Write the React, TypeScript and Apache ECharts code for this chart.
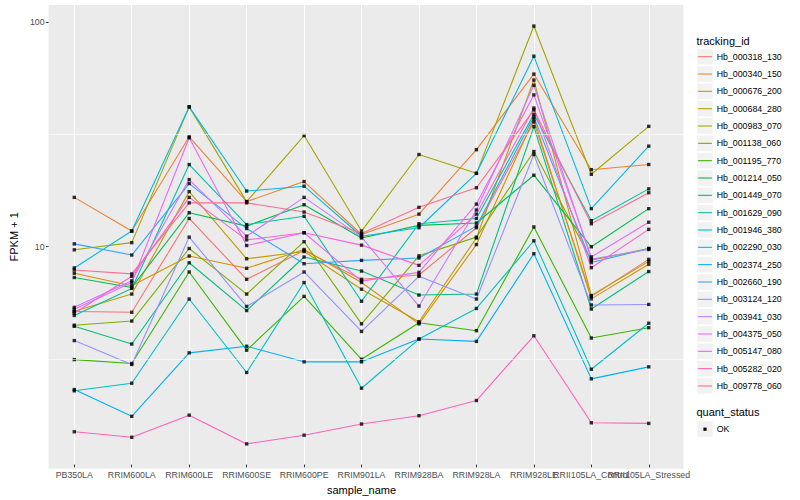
import React, { useEffect, useRef } from "react";
import * as echarts from "echarts";

const categories = [
  "PB350LA",
  "RRIM600LA",
  "RRIM600LE",
  "RRIM600SE",
  "RRIM600PE",
  "RRIM901LA",
  "RRIM928BA",
  "RRIM928LA",
  "RRIM928LE",
  "RRII105LA_Control",
  "RRII105LA_Stressed",
];

const trackingIds = [
  "Hb_000318_130",
  "Hb_000340_150",
  "Hb_000676_200",
  "Hb_000684_280",
  "Hb_000983_070",
  "Hb_001138_060",
  "Hb_001195_770",
  "Hb_001214_050",
  "Hb_001449_070",
  "Hb_001629_090",
  "Hb_001946_380",
  "Hb_002290_030",
  "Hb_002374_250",
  "Hb_002660_190",
  "Hb_003124_120",
  "Hb_003941_030",
  "Hb_004375_050",
  "Hb_005147_080",
  "Hb_005282_020",
  "Hb_009778_060",
];

// FPKM + 1 per sample (same order as categories)
const hb_000318_130 = [5.0, 4.96, 13.1, 6.98, 9.4, 6.98, 7.3, 11.9, 35.6, 5.85, 8.58];
const hb_000340_150 = [16.3, 11.5, 30.5, 15.6, 19.2, 11.1, 13.7, 26.7, 58.4, 21.7, 22.9];
const hb_000676_200 = [7.43, 6.53, 8.88, 7.82, 9.5, 6.75, 4.4, 10.0, 36.7, 5.7, 8.15];
const hb_000684_280 = [5.01, 5.99, 17.3, 8.63, 9.3, 6.3, 4.5, 10.7, 54.9, 5.9, 8.4];
const hb_000983_070 = [9.47, 10.2, 41.6, 15.6, 30.9, 11.5, 25.4, 20.9, 96, 20.7, 34.0];
const hb_001138_060 = [4.34, 4.53, 9.6, 5.99, 10.3, 4.4, 8.9, 10.8, 26.2, 8.5, 9.6];
const hb_001195_770 = [3.04, 2.92, 7.53, 3.35, 5.85, 3.05, 4.45, 4.1, 12.0, 3.8, 4.23];
const hb_001214_050 = [7.11, 6.41, 13.9, 12.1, 15.1, 10.7, 12.2, 12.5, 20.5, 9.77, 14.5];
const hb_001449_070 = [4.29, 3.57, 8.28, 5.05, 8.79, 7.6, 5.93, 5.99, 33.9, 5.13, 7.56];
const hb_001629_090 = [4.8, 6.35, 22.9, 12.3, 13.4, 5.56, 12.4, 13.1, 38.5, 12.8, 17.8];
const hb_001946_380 = [2.2, 2.38, 5.69, 2.66, 6.75, 2.26, 3.76, 5.16, 10.4, 2.75, 4.43];
const hb_002290_030 = [7.85, 11.5, 41.6, 17.4, 18.3, 10.9, 11.9, 20.9, 70.3, 14.5, 27.7];
const hb_002374_250 = [2.23, 1.69, 3.26, 3.49, 2.97, 2.97, 3.76, 3.67, 9.1, 2.49, 2.82];
const hb_002660_190 = [10.07, 8.97, 18.8, 11.8, 8.2, 8.49, 8.7, 12.1, 37.5, 8.3, 9.6];
const hb_003124_120 = [3.7, 2.89, 10.8, 5.27, 7.53, 4.07, 7.2, 5.69, 25.4, 5.35, 5.38];
const hb_003941_030 = [5.22, 6.87, 19.6, 10.9, 16.3, 10.8, 5.29, 14.3, 52.0, 8.6, 9.5];
const hb_004375_050 = [5.12, 6.75, 30.2, 9.9, 11.3, 6.85, 7.5, 15.2, 47.1, 8.8, 12.6];
const hb_005147_080 = [4.91, 7.2, 16.3, 10.5, 11.3, 9.94, 8.06, 13.7, 41.1, 7.87, 11.7];
const hb_005282_020 = [1.44, 1.36, 1.71, 1.27, 1.39, 1.56, 1.7, 1.99, 3.89, 1.58, 1.57];
const hb_009778_060 = [7.69, 7.38, 15.4, 15.4, 14.0, 11.2, 14.7, 18.0, 40.3, 12.4, 17.1];

const fpkmPlusOne = [
  hb_000318_130,
  hb_000340_150,
  hb_000676_200,
  hb_000684_280,
  hb_000983_070,
  hb_001138_060,
  hb_001195_770,
  hb_001214_050,
  hb_001449_070,
  hb_001629_090,
  hb_001946_380,
  hb_002290_030,
  hb_002374_250,
  hb_002660_190,
  hb_003124_120,
  hb_003941_030,
  hb_004375_050,
  hb_005147_080,
  hb_005282_020,
  hb_009778_060,
];

const quantStatus = ["OK"];
const yTickValues = [10, 100];
const yMinorValues = [3.1623, 31.623];
const yMin = 1.025;
const yMax = 119.4;

const palette = [
  "#F8766D", "#EA8331", "#D89000", "#C09B00", "#A3A500",
  "#7CAE00", "#39B600", "#00BB4E", "#00BF7D", "#00C1A3",
  "#00BFC4", "#00BAE0", "#00B0F6", "#35A2FF", "#9590FF",
  "#C77CFF", "#E76BF3", "#FA62DB", "#FF62BC", "#FF6C91",
];

const FONT = "'Liberation Sans', Arial, Helvetica, sans-serif";

function buildLegend() {
  const els: any[] = [];
  const kx = 697.3;
  const kw = 15.4;
  const first = 56.7;
  const step = 17.33;
  els.push({
    type: "text",
    x: 696.5,
    y: 40.5,
    style: { text: "tracking_id", fontSize: 11, fontFamily: FONT, fill: "#000", verticalAlign: "middle", align: "left" },
  });
  trackingIds.forEach((id, i) => {
    const cy = first + step * i;
    els.push({
      type: "rect",
      shape: { x: kx, y: cy - 7.8, width: kw, height: 15.6 },
      style: { fill: "#F2F2F2" },
    });
    els.push({
      type: "line",
      shape: { x1: kx + 0.8, y1: cy, x2: kx + kw - 0.8, y2: cy },
      style: { stroke: palette[i], lineWidth: 1.1 },
    });
    els.push({
      type: "text",
      x: 716.7,
      y: cy,
      style: { text: id, fontSize: 8.8, fontFamily: FONT, fill: "#000", verticalAlign: "middle", align: "left" },
    });
  });
  const qTitleY = 412.3;
  els.push({
    type: "text",
    x: 696.5,
    y: qTitleY,
    style: { text: "quant_status", fontSize: 11, fontFamily: FONT, fill: "#000", verticalAlign: "middle", align: "left" },
  });
  quantStatus.forEach((q, i) => {
    const cy = 429.2 + step * i;
    els.push({
      type: "rect",
      shape: { x: kx, y: cy - 7.8, width: kw, height: 15.6 },
      style: { fill: "#F2F2F2" },
    });
    els.push({
      type: "rect",
      shape: { x: kx + kw / 2 - 1.6, y: cy - 1.6, width: 3.2, height: 3.2 },
      style: { fill: "#000" },
    });
    els.push({
      type: "text",
      x: 716.7,
      y: cy,
      style: { text: q, fontSize: 8.8, fontFamily: FONT, fill: "#000", verticalAlign: "middle", align: "left" },
    });
  });
  return els;
}

export default function App() {
  const ref = useRef<HTMLDivElement>(null);

  useEffect(() => {
    document.body.style.margin = "0";
    if (!ref.current) return;
    const chart = echarts.init(ref.current, null, { renderer: "svg" });

    const lineSeries = trackingIds.map((id, i) => ({
      type: "line",
      name: id,
      xAxisIndex: 1,
      yAxisIndex: 1,
      data: fpkmPlusOne[i],
      showSymbol: false,
      symbol: "none",
      silent: true,
      lineStyle: { color: palette[i], width: 1.1 },
      itemStyle: { color: palette[i] },
      z: 2,
    }));

    const pointData: any[] = [];
    fpkmPlusOne.forEach((arr) => arr.forEach((v, j) => pointData.push([j, v])));

    // helper series on the background panel that carries the minor grid lines
    const minorGrid = {
      type: "line",
      name: "minor-grid",
      xAxisIndex: 0,
      yAxisIndex: 0,
      data: categories.map(() => "-"),
      symbol: "none",
      silent: true,
      lineStyle: { opacity: 0 },
      z: 1,
      markLine: {
        silent: true,
        symbol: ["none", "none"],
        label: { show: false },
        lineStyle: { color: "#FFFFFF", width: 0.6, type: "solid", opacity: 1 },
        emphasis: { disabled: true },
        data: yMinorValues.map((v) => ({ yAxis: v })),
      },
    };

    const option: any = {
      animation: false,
      textStyle: { fontFamily: FONT },
      grid: [
        {
          left: 40,
          top: 5,
          width: 643.4,
          height: 463.7,
          show: true,
          backgroundColor: "#EBEBEB",
          borderWidth: 0,
        },
        { left: 45.58, top: 5, width: 631.9, height: 463.7, show: false },
      ],
      xAxis: [
        { gridIndex: 0, type: "category", data: categories, show: false },
        {
          gridIndex: 1,
          type: "category",
          data: categories,
          boundaryGap: true,
          axisLine: { show: false },
          axisTick: { show: true, alignWithLabel: true, interval: 0, length: 2.7, lineStyle: { color: "#333333", width: 1 } },
          axisLabel: { interval: 0, color: "#4D4D4D", fontSize: 8.8, fontFamily: FONT, margin: 5.5 },
          splitLine: { show: true, interval: 0, alignWithLabel: true, lineStyle: { color: "#FFFFFF", width: 1.07 } },
          name: "sample_name",
          nameLocation: "middle",
          nameGap: 12.5,
          nameTextStyle: { color: "#000", fontSize: 11, fontFamily: FONT },
        },
      ],
      yAxis: [
        {
          gridIndex: 0,
          type: "log",
          min: yMin,
          max: yMax,
          axisLine: { show: false },
          axisTick: { show: true, length: 2.7, customValues: yTickValues, lineStyle: { color: "#333333", width: 1 } },
          axisLabel: {
            customValues: yTickValues,
            color: "#4D4D4D",
            fontSize: 8.8,
            fontFamily: FONT,
            margin: 4,
            formatter: (v: number) => String(v),
          },
          splitLine: { show: true, showMinLine: false, showMaxLine: false, lineStyle: { color: "#FFFFFF", width: 1.07 } },
          name: "FPKM + 1",
          nameLocation: "middle",
          nameGap: 24,
          nameRotate: 90,
          nameTextStyle: { color: "#000", fontSize: 11, fontFamily: FONT },
        },
        { gridIndex: 1, type: "log", min: yMin, max: yMax, show: false },
      ],
      series: [
        minorGrid,
        ...lineSeries,
        {
          type: "scatter",
          name: "OK",
          xAxisIndex: 1,
          yAxisIndex: 1,
          symbol: "rect",
          symbolSize: 3.4,
          silent: true,
          itemStyle: { color: "#000000" },
          data: pointData,
          z: 3,
        },
      ],
      graphic: buildLegend(),
    };

    chart.setOption(option);
    return () => chart.dispose();
  }, []);

  return <div ref={ref} style={{ width: 800, height: 500 }} />;
}
